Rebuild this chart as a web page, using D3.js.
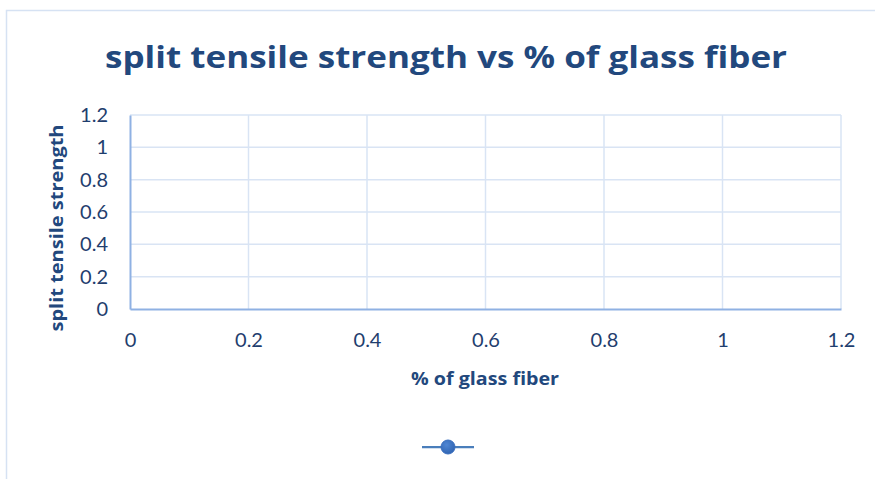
<!DOCTYPE html>
<html>
<head>
<meta charset="utf-8">
<script src="https://cdn.jsdelivr.net/npm/d3@7/dist/d3.min.js"></script>
<style>
  html, body { margin: 0; padding: 0; background: #ffffff; }
  svg { display: block; }
</style>
</head>
<body>
<script>
// Chart content
const chartTitle = "split tensile strength vs % of glass fiber";
const xAxisTitle = "% of glass fiber";
const yAxisTitle = "split tensile  strength";
const xTicks = [0, 0.2, 0.4, 0.6, 0.8, 1, 1.2];
const yTicks = [0, 0.2, 0.4, 0.6, 0.8, 1, 1.2];
// The single series carries no points
const seriesX = [];
const seriesY = [];

const W = 875, H = 479;
const margin = { left: 130, right: 34, top: 115, bottom: 170 };

const svg = d3.select("body").append("svg")
  .attr("width", W).attr("height", H);

// chart frame
svg.append("rect")
  .attr("x", 6.5).attr("y", 10.5)
  .attr("width", W + 20).attr("height", H + 20)
  .attr("fill", "#ffffff")
  .attr("stroke", "#d6e2f3").attr("stroke-width", 1.5);

const x = d3.scaleLinear().domain([0, 1.2]).range([margin.left, W - margin.right]);
const y = d3.scaleLinear().domain([0, 1.2]).range([H - margin.bottom, margin.top]);

const font = "Lato, 'Open Sans', sans-serif";
const titleFont = "'Open Sans', Lato, sans-serif";
const textColor = "#1f3e6e";
const titleColor = "#22487d";

// gridlines
const grid = svg.append("g");
grid.selectAll("line.h").data(yTicks.filter(d => d > 0)).join("line")
  .attr("x1", x(0)).attr("x2", x(1.2))
  .attr("y1", d => y(d)).attr("y2", d => y(d))
  .attr("stroke", "#d9e4f4").attr("stroke-width", 1.5);
grid.selectAll("line.v").data(xTicks.filter(d => d > 0)).join("line")
  .attr("y1", y(0)).attr("y2", y(1.2))
  .attr("x1", d => x(d)).attr("x2", d => x(d))
  .attr("stroke", "#d9e4f4").attr("stroke-width", 1.5);

// axes
const xAxis = d3.axisBottom(x).tickValues(xTicks).tickSize(0).tickPadding(24)
  .tickFormat(d3.format("~g"));
const yAxis = d3.axisLeft(y).tickValues(yTicks).tickSize(0).tickPadding(22)
  .tickFormat(d3.format("~g"));

const gx = svg.append("g").attr("transform", `translate(0,${y(0)})`).call(xAxis);
const gy = svg.append("g").attr("transform", `translate(${x(0)},0)`).call(yAxis);
[gx, gy].forEach(g => {
  g.select(".domain").attr("stroke", "#8fb1e3").attr("stroke-width", 2);
  g.selectAll("text")
    .attr("font-family", font).attr("font-size", 20)
    .attr("fill", textColor);
});

// series line (empty)
svg.append("path")
  .datum(seriesX.map((d, i) => [d, seriesY[i]]))
  .attr("fill", "none").attr("stroke", "#4a7ebb").attr("stroke-width", 2.25)
  .attr("d", d3.line().x(d => x(d[0])).y(d => y(d[1])));

// titles
svg.append("text")
  .attr("x", 446).attr("y", 68)
  .attr("text-anchor", "middle")
  .attr("font-family", titleFont).attr("font-weight", 700).attr("font-size", 31)
  .attr("fill", titleColor)
  .attr("textLength", 682).attr("lengthAdjust", "spacingAndGlyphs")
  .text(chartTitle);

svg.append("text")
  .attr("x", 485).attr("y", 385)
  .attr("text-anchor", "middle")
  .attr("font-family", titleFont).attr("font-weight", 700).attr("font-size", 18)
  .attr("fill", titleColor)
  .attr("textLength", 148).attr("lengthAdjust", "spacingAndGlyphs")
  .text(xAxisTitle);

svg.append("text")
  .attr("transform", "translate(63,228) rotate(-90)")
  .attr("text-anchor", "middle")
  .attr("font-family", titleFont).attr("font-weight", 700).attr("font-size", 18)
  .attr("fill", titleColor)
  .attr("textLength", 207).attr("lengthAdjust", "spacingAndGlyphs")
  .text(yAxisTitle);

// legend
const defs = svg.append("defs");
const grad = defs.append("radialGradient").attr("id", "mk").attr("cx", "40%").attr("cy", "35%").attr("r", "70%");
grad.append("stop").attr("offset", "0%").attr("stop-color", "#4f86d4");
grad.append("stop").attr("offset", "100%").attr("stop-color", "#2f63b0");

const lg = svg.append("g");
lg.append("line")
  .attr("x1", 422).attr("x2", 474).attr("y1", 447).attr("y2", 447)
  .attr("stroke", "#4a7ebb").attr("stroke-width", 2.25);
lg.append("circle")
  .attr("cx", 448).attr("cy", 447).attr("r", 7)
  .attr("fill", "url(#mk)").attr("stroke", "#3a6fbf").attr("stroke-width", 1);
</script>
</body>
</html>
